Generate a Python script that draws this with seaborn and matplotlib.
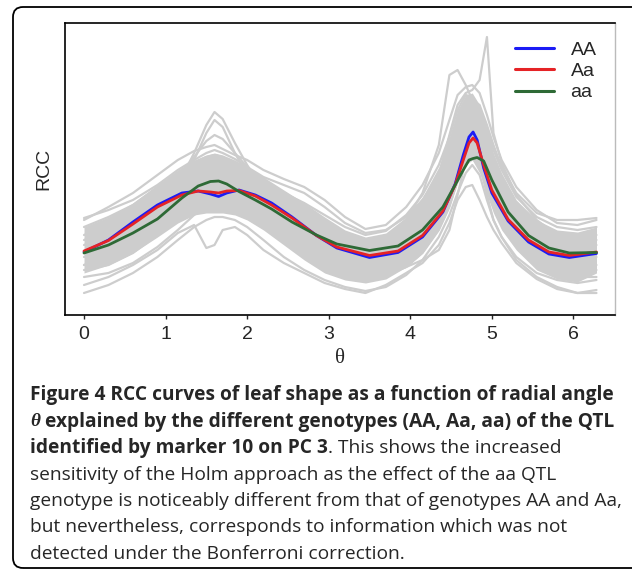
import numpy as np
import pandas as pd
import matplotlib
matplotlib.use("Agg")
import matplotlib.pyplot as plt
import seaborn as sns
from matplotlib.lines import Line2D
from matplotlib.patches import FancyBboxPatch
from matplotlib.font_manager import FontProperties

# ========================
# DATA (RCC in arbitrary units)
# ========================
theta_mean = [0.0, 0.3, 0.6, 0.9, 1.2, 1.4, 1.55, 1.65, 1.75, 1.9, 2.1, 2.3, 2.55, 2.85,
              3.1, 3.5, 3.85, 4.15, 4.4, 4.55, 4.65, 4.72, 4.77, 4.82, 4.9, 5.0, 5.2,
              5.45, 5.7, 5.95, 6.283]
rcc_AA = [0.63, 0.75, 0.93, 1.10, 1.22, 1.24, 1.21, 1.185, 1.22, 1.25, 1.20, 1.12, 0.98, 0.795,
          0.67, 0.575, 0.625, 0.78, 1.03, 1.31, 1.60, 1.78, 1.83, 1.75, 1.47, 1.22, 0.94,
          0.73, 0.61, 0.575, 0.615]
rcc_Aa = [0.64, 0.745, 0.91, 1.08, 1.20, 1.24, 1.23, 1.22, 1.24, 1.245, 1.19, 1.10, 0.97, 0.795,
          0.68, 0.595, 0.64, 0.795, 1.04, 1.30, 1.55, 1.72, 1.77, 1.72, 1.50, 1.25, 0.955,
          0.75, 0.63, 0.595, 0.63]
rcc_aa = [0.62, 0.70, 0.82, 0.96, 1.17, 1.29, 1.335, 1.34, 1.31, 1.235, 1.15, 1.06, 0.93, 0.80,
          0.71, 0.645, 0.69, 0.85, 1.08, 1.30, 1.45, 1.55, 1.565, 1.575, 1.54, 1.35, 1.03,
          0.795, 0.67, 0.62, 0.625]
genotypes = ["AA", "Aa", "aa"]

theta_gray = [0.0, 0.3, 0.6, 0.9, 1.15, 1.35, 1.5, 1.6, 1.7, 1.85, 2.0, 2.2, 2.45, 2.7, 2.95,
              3.2, 3.45, 3.7, 3.95, 4.15, 4.35, 4.48, 4.58, 4.68, 4.76, 4.85, 4.94, 5.02,
              5.12, 5.3, 5.55, 5.8, 6.05, 6.283]
gray_01 = [0.95, 1.08, 1.22, 1.40, 1.55, 1.64, 1.68, 1.70, 1.66, 1.60, 1.55, 1.45, 1.36, 1.28, 1.15,
           0.98, 0.86, 0.90, 1.08, 1.30, 1.62, 1.95, 2.20, 2.28, 2.30, 2.22, 2.00, 1.78,
           1.55, 1.28, 1.05, 0.92, 0.90, 0.95]
gray_02 = [0.62, 0.72, 0.88, 1.08, 1.30, 1.62, 1.90, 2.03, 1.96, 1.72, 1.50, 1.25, 1.02, 0.85, 0.70,
           0.60, 0.55, 0.58, 0.70, 0.85, 1.10, 1.35, 1.62, 1.88, 1.98, 1.85, 1.58, 1.35,
           1.15, 0.92, 0.72, 0.62, 0.58, 0.62]
gray_03 = [0.50, 0.58, 0.75, 0.98, 1.25, 1.55, 1.82, 1.95, 1.88, 1.62, 1.40, 1.15, 0.92, 0.75, 0.60,
           0.50, 0.46, 0.50, 0.62, 0.78, 1.02, 1.28, 1.55, 1.80, 1.92, 1.78, 1.50, 1.28,
           1.08, 0.85, 0.65, 0.52, 0.48, 0.50]
gray_04 = [0.75, 0.85, 1.00, 1.18, 1.38, 1.58, 1.74, 1.80, 1.76, 1.62, 1.48, 1.30, 1.12, 0.95, 0.80,
           0.70, 0.66, 0.70, 0.82, 0.98, 1.22, 1.45, 1.70, 1.95, 2.08, 1.98, 1.72, 1.48,
           1.25, 1.00, 0.82, 0.74, 0.72, 0.75]
gray_05 = [0.70, 0.80, 0.95, 1.10, 1.25, 1.35, 1.40, 1.42, 1.40, 1.35, 1.28, 1.18, 1.05, 0.92, 0.80,
           0.70, 0.66, 0.70, 0.85, 1.05, 1.40, 1.80, 2.10, 2.22, 2.25, 2.35, 2.78, 1.82,
           1.52, 1.20, 0.95, 0.80, 0.72, 0.70]
gray_06 = [0.80, 0.90, 1.05, 1.22, 1.38, 1.48, 1.52, 1.50, 1.48, 1.42, 1.35, 1.25, 1.15, 1.02, 0.88,
           0.76, 0.70, 0.76, 0.95, 1.22, 1.70, 2.40, 2.45, 2.30, 2.15, 1.90, 1.65, 1.45,
           1.28, 1.05, 0.88, 0.80, 0.78, 0.80]
gray_07 = [0.45, 0.50, 0.62, 0.80, 0.98, 1.12, 1.20, 1.22, 1.20, 1.15, 1.08, 0.98, 0.85, 0.70, 0.55,
           0.45, 0.40, 0.45, 0.58, 0.75, 1.00, 1.25, 1.48, 1.70, 1.80, 1.68, 1.40, 1.18,
           0.98, 0.75, 0.55, 0.45, 0.42, 0.45]
gray_08 = [0.30, 0.38, 0.50, 0.65, 0.82, 0.90, 0.67, 0.70, 0.85, 0.88, 0.80, 0.65, 0.52, 0.42, 0.32,
           0.26, 0.22, 0.30, 0.42, 0.52, 0.70, 0.92, 1.15, 1.28, 1.30, 1.15, 0.98, 0.85,
           0.72, 0.52, 0.36, 0.26, 0.22, 0.25]
gray_09 = [0.22, 0.30, 0.42, 0.58, 0.75, 0.88, 0.95, 0.98, 0.98, 0.95, 0.88, 0.75, 0.58, 0.45, 0.35,
           0.28, 0.24, 0.28, 0.40, 0.55, 0.78, 1.00, 1.22, 1.42, 1.50, 1.40, 1.15, 0.95,
           0.78, 0.55, 0.38, 0.28, 0.22, 0.22]
gray_10 = [0.88, 0.98, 1.10, 1.28, 1.42, 1.52, 1.58, 1.60, 1.58, 1.50, 1.42, 1.32, 1.22, 1.12, 1.00,
           0.88, 0.80, 0.84, 1.00, 1.20, 1.50, 1.78, 2.05, 2.20, 2.18, 2.05, 1.85, 1.65,
           1.45, 1.18, 0.98, 0.88, 0.85, 0.88]
gray_11 = [0.58, 0.65, 0.80, 0.98, 1.15, 1.28, 1.35, 1.36, 1.34, 1.28, 1.20, 1.10, 0.95, 0.80, 0.66,
           0.56, 0.52, 0.56, 0.70, 0.88, 1.15, 1.42, 1.68, 1.92, 2.00, 1.90, 1.62, 1.40,
           1.20, 0.95, 0.72, 0.60, 0.56, 0.58]
gray_12 = [0.38, 0.42, 0.52, 0.68, 0.85, 1.00, 1.08, 1.12, 1.15, 1.15, 1.12, 1.05, 0.92, 0.78, 0.62,
           0.50, 0.42, 0.40, 0.48, 0.62, 0.85, 1.08, 1.35, 1.58, 1.70, 1.62, 1.45, 1.25,
           1.05, 0.80, 0.58, 0.45, 0.38, 0.38]
gray_13 = [0.97, 1.05, 1.15, 1.30, 1.45, 1.55, 1.62, 1.65, 1.62, 1.56, 1.48, 1.38, 1.30, 1.22, 1.08,
           0.92, 0.82, 0.85, 0.98, 1.15, 1.40, 1.65, 1.90, 2.10, 2.15, 2.10, 1.90, 1.70,
           1.48, 1.22, 1.02, 0.95, 0.95, 0.97]
gray_14 = [0.50, 0.55, 0.68, 0.85, 1.05, 1.18, 1.25, 1.28, 1.25, 1.18, 1.10, 0.98, 0.82, 0.65, 0.50,
           0.40, 0.35, 0.40, 0.48, 0.55, 0.65, 0.85, 1.20, 1.55, 1.75, 1.55, 1.20, 0.95,
           0.78, 0.58, 0.42, 0.35, 0.32, 0.35]
gray_curves = [gray_01, gray_02, gray_03, gray_04, gray_05, gray_06, gray_07,
               gray_08, gray_09, gray_10, gray_11, gray_12, gray_13, gray_14]
# dense middle of the bundle of individual curves
core_hi = [0.88, 0.98, 1.12, 1.30, 1.45, 1.55, 1.60, 1.62, 1.60, 1.55, 1.48, 1.38, 1.25, 1.12, 0.98,
           0.85, 0.78, 0.82, 0.98, 1.18, 1.48, 1.78, 2.05, 2.20, 2.22, 2.10, 1.85, 1.62,
           1.42, 1.15, 0.95, 0.85, 0.83, 0.88]
core_lo = [0.42, 0.50, 0.62, 0.78, 0.92, 1.00, 1.02, 1.02, 1.02, 1.00, 0.95, 0.85, 0.70, 0.55, 0.42,
           0.35, 0.32, 0.36, 0.48, 0.62, 0.85, 1.08, 1.32, 1.50, 1.55, 1.42, 1.20, 1.02,
           0.85, 0.65, 0.45, 0.36, 0.33, 0.42]

x_ticks = [0, 1, 2, 3, 4, 5, 6]

caption_line1 = "Figure 4 RCC curves of leaf shape as a function of radial angle"
caption_line2 = ["\u03b8", "explained by the different genotypes (AA, Aa, aa) of the QTL"]
caption_line3 = ["identified by marker 10 on PC 3", ". This shows the increased"]
caption_rest = [
    "sensitivity of the Holm approach as the effect of the aa QTL",
    "genotype is noticeably different from that of genotypes AA and Aa,",
    "but nevertheless, corresponds to information which was not",
    "detected under the Bonferroni correction.",
]

# ========================
# STYLE
# ========================
GRAY = "#cdcdcd"
PALETTE = {"AA": "#1c1cf5", "Aa": "#e52326", "aa": "#2e6a36"}
W, H = 632, 570

sns.set_style("white")
plt.rcParams["font.family"] = ["Liberation Sans", "DejaVu Sans"]

fig = plt.figure(figsize=(W / 100, H / 100), dpi=100)
ax = fig.add_axes([65 / W, 1 - 315 / H, 550 / W, 292 / H])

gray_df = pd.DataFrame({
    "theta": np.tile(theta_gray, len(gray_curves)),
    "rcc": np.concatenate(gray_curves),
    "curve": np.repeat(np.arange(len(gray_curves)), len(theta_gray)),
})
mean_df = pd.DataFrame({
    "theta": np.tile(theta_mean, 3),
    "rcc": np.concatenate([rcc_AA, rcc_Aa, rcc_aa]),
    "genotype": np.repeat(genotypes, len(theta_mean)),
})

ax.fill_between(theta_gray, core_lo, core_hi, color=GRAY, lw=0)
sns.lineplot(data=gray_df, x="theta", y="rcc", units="curve", estimator=None,
             color=GRAY, lw=1.6, ax=ax, legend=False)
sns.lineplot(data=mean_df, x="theta", y="rcc", hue="genotype", palette=PALETTE,
             estimator=None, lw=2.0, ax=ax, legend=False)

ax.set_xlim(-0.233, 6.51)
ax.set_ylim(0, 2.92)
ax.set_xticks(x_ticks)
ax.set_xticklabels([str(t) for t in x_ticks], fontsize=14)
ax.set_yticks([])
ax.tick_params(axis="x", direction="out", length=3, width=1, pad=5, bottom=True)
ax.set_xlabel("\u03b8", fontsize=15, family=["Liberation Serif", "DejaVu Serif"], labelpad=4)
ax.set_ylabel("RCC", fontsize=14, labelpad=9)
for side in ["left", "bottom", "top"]:
    ax.spines[side].set_color("black")
    ax.spines[side].set_linewidth(1.2)
ax.spines["right"].set_color("#bbbbbb")
ax.spines["right"].set_linewidth(1.0)

handles = [Line2D([0], [0], color=PALETTE[g], lw=2.2) for g in genotypes]
ax.legend(handles, genotypes, loc="upper right", bbox_to_anchor=(1.0, 1.0), frameon=False,
          fontsize=14, handlelength=2.0, handletextpad=0.85, labelspacing=0.18,
          borderaxespad=0.55, borderpad=0.4)

# rounded frame around figure + caption (right edge runs off the picture)
box = FancyBboxPatch((0.13, 0.02), 6.32, 5.61, boxstyle="round,pad=0,rounding_size=0.1",
                     transform=fig.dpi_scale_trans, fill=False, lw=1.3, ec="black",
                     clip_on=False)
fig.patches.append(box)

# ========================
# CAPTION
# ========================
cap_family = ["Open Sans", "DejaVu Sans"]
fig.canvas.draw()
renderer = fig.canvas.get_renderer()


def text_w(s, fp):
    t = fig.text(0, 0, s, fontproperties=fp)
    w = t.get_window_extent(renderer).width
    t.remove()
    return w


def adv(s, fp):
    return text_w(s + "x", fp) - text_w("x", fp)


probe = FontProperties(family=cap_family, weight="bold", size=10)
cap_size = 10 * 583 / text_w(caption_line1, probe)
bold = FontProperties(family=cap_family, weight="bold", size=cap_size)
regular = FontProperties(family=cap_family, size=cap_size)
theta_fp = FontProperties(family=["Liberation Serif", "DejaVu Serif"], style="italic",
                          weight="bold", size=cap_size)

x0 = 30
baselines = [400, 426.5, 453, 479.5, 506, 532.5, 559]
runs = [
    [(caption_line1, bold)],
    [(caption_line2[0], theta_fp), (" " + caption_line2[1], bold)],
    [(caption_line3[0], bold), (caption_line3[1], regular)],
] + [[(s, regular)] for s in caption_rest]

for yb, line in zip(baselines, runs):
    x = x0
    for s, fp in line:
        if s.startswith(" "):
            x += adv("x ", fp) - adv("x", fp)
            s = s[1:]
        fig.text(x / W, 1 - yb / H, s, fontproperties=fp, va="baseline", ha="left")
        x += adv(s, fp)

fig.savefig("out.png", dpi=100)
